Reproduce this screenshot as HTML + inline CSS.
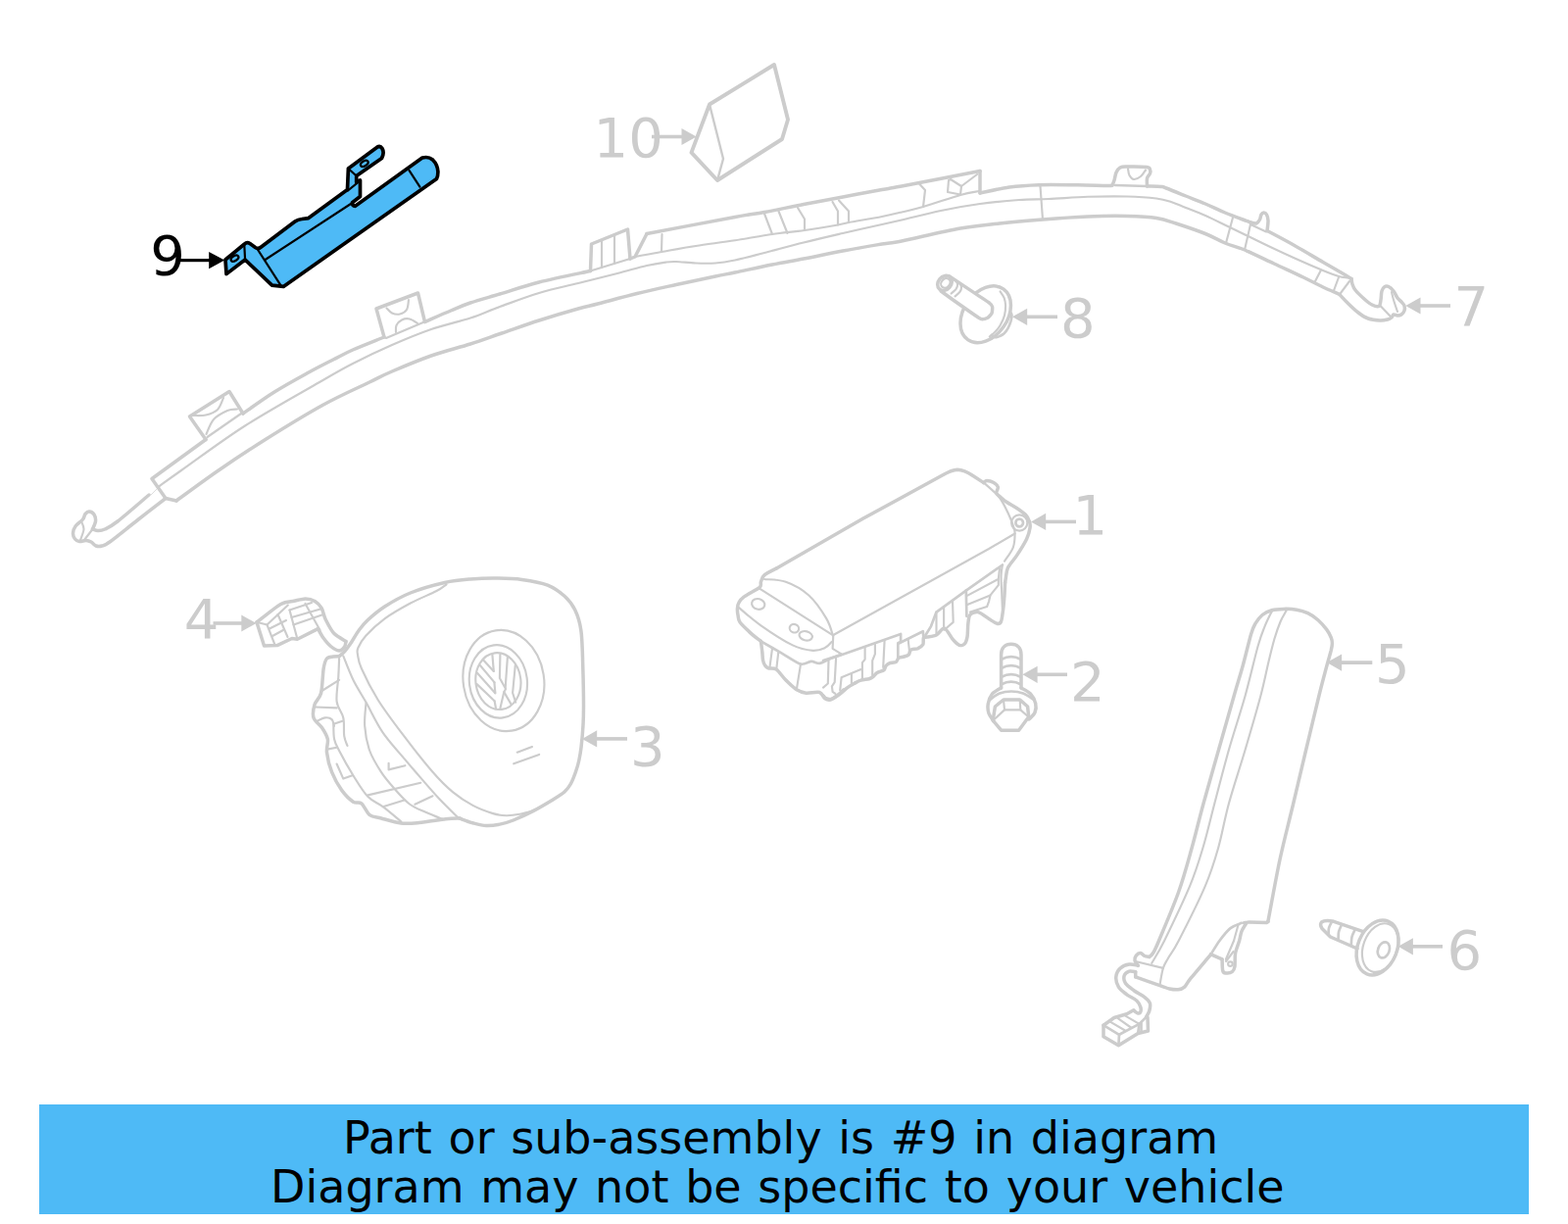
<!DOCTYPE html>
<html lang="en">
<head>
<meta charset="utf-8">
<title>Part diagram</title>
<style>
html,body{margin:0;padding:0;background:#fff}
body{width:1600px;height:1249px;overflow:hidden;position:relative;font-family:"DejaVu Sans","Liberation Sans",sans-serif}
svg{position:absolute;left:0;top:0;display:block}
.k{fill:none;stroke:#ccc;stroke-width:3.9;stroke-linejoin:round;stroke-linecap:round}
.m{fill:none;stroke:#ccc;stroke-width:3;stroke-linejoin:round;stroke-linecap:round}
.n{fill:none;stroke:#ccc;stroke-width:2.4;stroke-linejoin:round;stroke-linecap:round}
.t .k{stroke-width:3.5}
.t .m{stroke-width:2.7}
.t .n{stroke-width:2.15}
.lbl,.lbl9{font-family:"DejaVu Sans","Liberation Sans",sans-serif;font-size:56px;fill:#ccc}
.lbl9{fill:#000}
.arr,.arr9{stroke:#ccc;stroke-width:3.6;fill:none}
.ah,.ah9{fill:#ccc;stroke:none}
.arr9{stroke:#000;stroke-width:3.2}
.ah9{fill:#000}
.banner{position:absolute;left:40px;top:1127px;width:1520px;height:112px;background:#4ebaf6}
.banner p{position:absolute;left:0;margin:0;font-size:46px;line-height:50px;word-spacing:2.07px;color:#000;white-space:nowrap}
</style>
</head>
<body>
<svg width="1600" height="1249" viewBox="0 0 1600 1249">
<g id="g-p7" class="t">
<path class="k" d="M94.5,540 C95,538.7 97.2,534.5 97.5,532 C97.8,529.5 97.1,526.7 96,525 C94.9,523.3 92.5,522.1 91,522 C89.5,521.9 88.1,523.2 87,524.5 C85.9,525.8 86.2,527.9 84.5,530 C82.8,532.1 78.7,534.7 77,537 C75.3,539.3 74.6,541.8 74.5,544 C74.4,546.2 75.4,548.6 76.5,550 C77.6,551.4 79.1,552.2 81,552.5 C82.9,552.8 86,551.4 88,551.5 C90,551.6 91.3,552.1 93,553 C94.7,553.9 96.2,556.3 98,557 C99.8,557.7 101.7,557.7 104,557 C106.3,556.3 106,557.3 112,553 C118,548.7 130.5,538.4 140,531 C149.5,523.6 164.2,512.2 169,508.5"/>
<path class="k" d="M94.5,540 C95.4,540.2 97.9,541.5 100,541.5 C102.1,541.5 103.7,541.6 107,540 C110.3,538.4 112.5,537.8 120,532 C127.5,526.2 146.7,509.5 152,505"/>
<path class="n" d="M83,532 C83.4,533.3 85.7,536.8 85.5,540 C85.3,543.2 82.6,549.2 82,551"/>
<path class="n" d="M94.5,540 L86,551"/>
<path d="M153,506 L161,498" fill="none" stroke="#ddd" stroke-width="1"/>
<path class="k" d="M210,448.5 L155,488.5 L169,508.5 L180,511"/>
<path class="k" d="M210,448.5 L193.5,425 L234,399.5 L248,422"/>
<path class="k" d="M248,422 C253.3,418.3 268.8,407 280,400 C291.2,393 305,385.5 315,380 C325,374.5 332.5,370.8 340,367 C347.5,363.2 351.3,360.8 360,357 C368.7,353.2 386.7,346.2 392,344"/>
<path class="k" d="M392,344 L384,315 L426.5,299 L433.5,328.5"/>
<path class="k" d="M433.5,328.5 C437.9,326.6 452.2,320.2 460,317 C467.8,313.8 471.7,311.8 480,309 C488.3,306.2 498.3,303.5 510,300 C521.7,296.5 534.6,291.9 550,288 C565.4,284.1 593.8,278.4 602.5,276.5"/>
<path class="k" d="M602.5,276.5 L603.5,249 L640.5,234 L643,264"/>
<path class="k" d="M643,264 L648,262 L660,238.5"/>
<path class="k" d="M660,238.5 C675,235.7 730,225.2 750,221.5 C770,217.8 768.3,218.7 780,216.5 C791.7,214.3 806.7,211.1 820,208.5 C833.3,205.9 846.7,203.5 860,201 C873.3,198.5 890,195.3 900,193.5 C910,191.7 903.3,193.2 920,190 C936.7,186.8 986.7,177.1 1000,174.5"/>
<path class="k" d="M1000,174.5 L1000,197"/>
<path class="k" d="M1000,197 C1005,196 1020,192.4 1030,191 C1040,189.6 1048.3,189.1 1060,188.7 C1071.7,188.3 1088.3,188.7 1100,188.8 C1111.7,188.9 1124.2,189.5 1130,189.5 C1135.8,189.5 1134.2,189.1 1135,189"/>
<path class="k" d="M1135,189 C1135.3,188.2 1136.3,186.2 1137,184 C1137.7,181.8 1138,178.2 1139,176 C1140,173.8 1141.2,172 1143,171 C1144.8,170 1145.5,170.1 1150,170 C1154.5,169.9 1166.1,170 1170,170.5 C1173.9,171 1172.9,171.9 1173.5,173 C1174.1,174.1 1174,175.5 1173.5,177 C1173,178.5 1171,179.8 1170.5,182 C1170,184.2 1170.5,188.7 1170.5,190"/>
<path class="m" d="M1138,189 L1170,190"/>
<path class="n" d="M1151,172 C1151.2,173.2 1151.5,177.2 1152.5,179 C1153.5,180.8 1155.1,182.8 1157,183 C1158.9,183.2 1162,181.6 1164,180 C1166,178.4 1168.2,174.6 1169,173.5"/>
<path class="k" d="M1170.5,190 C1172.9,190.1 1181.8,190.2 1185,190.5 C1188.2,190.8 1185.8,190.4 1190,192 C1194.2,193.6 1203.3,197.3 1210,200 C1216.7,202.7 1223.3,205.2 1230,208 C1236.7,210.8 1242.3,213.8 1250,217 C1257.7,220.2 1271.7,225.3 1276,227"/>
<path class="k" d="M1276,227 C1277,227.2 1280.4,228.5 1282,228 C1283.6,227.5 1284.7,225.5 1285.5,224 C1286.3,222.5 1286.3,220.2 1287,219 C1287.7,217.8 1288.6,217 1289.5,217 C1290.4,217 1291.8,217.7 1292.5,219 C1293.2,220.3 1293.9,222.2 1294,225 C1294.1,227.8 1293.2,233.8 1293,235.5"/>
<path class="n" d="M1276,229 L1292,236.5"/>
<path class="k" d="M1293,235.5 C1297.5,237.9 1310.5,244.7 1320,250 C1329.5,255.3 1341.7,262.7 1350,267.5 C1358.3,272.3 1365.2,276.2 1370,279 C1374.8,281.8 1377.5,283.6 1379,284.5"/>
<path class="k" d="M180,511 C187.2,505.8 208,490.3 223,480 C238,469.7 252.2,460.2 270,449 C287.8,437.8 312.2,422.8 330,413 C347.8,403.2 365.3,395.7 377,390 C388.7,384.3 389.5,383.5 400,379 C410.5,374.5 426.7,367.7 440,363 C453.3,358.3 468,354.8 480,351 C492,347.2 500.3,344 512,340 C523.7,336 537,331.2 550,327 C563,322.8 580,317.8 590,315 C600,312.2 600,312.6 610,310 C620,307.4 636.7,302.8 650,299.5 C663.3,296.2 676.7,293.4 690,290.5 C703.3,287.6 720,284.1 730,282 C740,279.9 740.3,280 750,278 C759.7,276 776.3,272.3 788,270 C799.7,267.7 808,266.3 820,264 C832,261.7 846.7,258.5 860,256 C873.3,253.5 890,250.7 900,249 C910,247.3 906.7,248.7 920,246 C933.3,243.3 963.3,236 980,233 C996.7,230 1006,229.5 1020,228 C1034,226.5 1049,225.2 1064,224 C1079,222.8 1095.7,221.6 1110,221 C1124.3,220.4 1138.3,220.2 1150,220.5 C1161.7,220.8 1171.7,221.2 1180,222.5 C1188.3,223.8 1191.7,225.3 1200,228 C1208.3,230.7 1221.7,235.2 1230,238.5 C1238.3,241.8 1243.3,245.2 1250,248 C1256.7,250.8 1261.7,251.5 1270,255 C1278.3,258.5 1290,264.3 1300,269 C1310,273.7 1321.7,279 1330,283 C1338.3,287 1343.8,290.1 1350,293 C1356.2,295.9 1364.2,299.2 1367,300.5"/>
<path class="n" d="M162,496.5 C165.8,493.8 170.3,490.3 185,480 C199.7,469.7 226.5,449.5 250,434.5 C273.5,419.5 307.7,400.6 326,390 C344.3,379.4 347.7,377.3 360,371 C372.3,364.7 386.7,357.8 400,352 C413.3,346.2 426.7,340.6 440,336 C453.3,331.4 468.3,328.3 480,324.5 C491.7,320.7 498.3,317.2 510,313 C521.7,308.8 536.7,303 550,299 C563.3,295 576.7,292.3 590,289 C603.3,285.7 618.3,282 630,279 C641.7,276 651.7,272.9 660,271 C668.3,269.1 675,268.2 680,267.5 C685,266.8 685,266.8 690,267 C695,267.2 703.3,268.2 710,268.5 C716.7,268.8 723.3,269 730,268.5 C736.7,268 741.7,267.2 750,265.5 C758.3,263.8 768.3,261 780,258 C791.7,255 806.7,250.8 820,247.5 C833.3,244.2 846.7,241.1 860,238 C873.3,234.9 890,231.2 900,229 C910,226.8 910,226.8 920,224.5 C930,222.2 946.7,217.8 960,215 C973.3,212.2 986.7,209.8 1000,208 C1013.3,206.2 1028.3,204.8 1040,204 C1051.7,203.2 1058.3,203.5 1070,203 C1081.7,202.5 1096.7,201.2 1110,200.8 C1123.3,200.4 1138.3,200.2 1150,200.5 C1161.7,200.8 1172.5,201.6 1180,202.5 C1187.5,203.4 1190,204.4 1195,206 C1200,207.6 1204.2,209.7 1210,212 C1215.8,214.3 1222.5,216.7 1230,220 C1237.5,223.3 1245,227.2 1255,232 C1265,236.8 1279.2,243.8 1290,249 C1300.8,254.2 1310,258.5 1320,263 C1330,267.5 1342.3,272.8 1350,276 C1357.7,279.2 1361.8,280.8 1366,282 C1370.2,283.2 1373.5,283.2 1375,283.5"/>
<path class="n" d="M648,262 C652.5,261.2 664.7,258.8 675,257 C685.3,255.2 697.5,252.9 710,251 C722.5,249.1 737,247.3 750,245.3 C763,243.3 776.2,240.7 788,239 C799.8,237.3 809.8,236.6 821,235 C832.2,233.4 847.5,230.8 855,229.5 C862.5,228.2 858.5,228.4 866,227 C873.5,225.6 891,222.8 900,221 C909,219.2 913,218.2 920,216.5 C927,214.8 932,213.9 942,211 C952,208.1 970.5,201.7 980,199 C989.5,196.3 995.8,195.7 999,195"/>
<path class="n" d="M675.5,239 L675,257"/>
<path class="n" d="M780,218 L788,239"/>
<path class="n" d="M794.5,215.5 L803.5,238"/>
<path class="n" d="M814,212 L821,223.5 L821,235"/>
<path class="n" d="M849.5,206 L855,215.5 L855,229.5"/>
<path class="n" d="M856,204.5 L866,215.5 L866,227"/>
<path class="n" d="M938,187.5 L944,194 L942,211"/>
<path class="n" d="M970,183 L968,184 L967,196 L980,198.5 L981,190 L970,183"/>
<path class="n" d="M981,190 L997,178"/>
<path class="n" d="M211.5,446 L247.5,421"/>
<path class="n" d="M197,424 C199.2,423.9 205.8,424.5 210,423.5 C214.2,422.5 219,420.9 222,418 C225,415.1 227,408 228,406"/>
<path class="n" d="M210.5,443 C211.8,440.5 214.4,432 218,428 C221.6,424 228,420.8 232,419 C236,417.2 240.3,417.8 242,417.5"/>
<path class="n" d="M394,345 L433,328.5"/>
<path class="n" d="M394.5,314.5 C395.4,315.3 397.8,318.5 400,319.5 C402.2,320.5 405.5,321.1 408,320.5 C410.5,319.9 413.5,318.4 415,316 C416.5,313.6 416.7,307.7 417,306"/>
<path class="n" d="M404,339 C404.1,337.8 403.5,334.1 404.5,332 C405.5,329.9 407.8,327.6 410,326.5 C412.2,325.4 415.3,324.9 418,325.5 C420.7,326.1 424.7,329.2 426,330"/>
<path class="n" d="M614,245.5 L614,273"/>
<path class="n" d="M627,240 L627,269"/>
<path class="n" d="M604,276 L643,264"/>
<path class="n" d="M1061.5,190 L1064,224"/>
<path class="n" d="M1258,222 L1251,248"/>
<path class="n" d="M1276,229 L1270,255"/>
<path class="n" d="M1348,275.5 L1341.5,288"/>
<path class="n" d="M1366,283 L1361,296.5"/>
<path class="n" d="M1377,287 L1368,299"/>
<path class="k" d="M1379,284.5 C1379.2,285.4 1379.3,288.1 1380,290 C1380.7,291.9 1381,293.5 1383,296 C1385,298.5 1389.2,302.5 1392,305 C1394.8,307.5 1397.5,309.8 1400,311 C1402.5,312.2 1405.5,313.3 1407,312.5 C1408.5,311.7 1408.5,308.6 1409,306 C1409.5,303.4 1409.3,299.2 1410,297 C1410.7,294.8 1411.8,293.2 1413,292.5 C1414.2,291.8 1415.5,291.8 1417,292.5 C1418.5,293.2 1420.5,295.1 1422,297 C1423.5,298.9 1424.7,302.2 1426,304 C1427.3,305.8 1428.8,306.7 1430,308 C1431.2,309.3 1432.5,310.5 1433,312 C1433.5,313.5 1433.5,315.5 1433,317 C1432.5,318.5 1431.2,320.2 1430,321 C1428.8,321.8 1427.3,322 1426,322 C1424.7,322 1423,320.7 1422,321 C1421,321.3 1421,323.2 1420,324 C1419,324.8 1418,325.5 1416,326 C1414,326.5 1411.3,327.2 1408,327 C1404.7,326.8 1399.7,326.3 1396,325 C1392.3,323.7 1389.5,321.7 1386,319 C1382.5,316.3 1378.2,312.1 1375,309 C1371.8,305.9 1368.3,301.9 1367,300.5"/>
<path class="n" d="M1409,312.5 L1419,323"/>
<path class="n" d="M1420,298 C1420.3,299.3 1421,302.7 1422,306 C1423,309.3 1425.3,316 1426,318"/>
<text class="lbl" x="1483.5" y="332">7</text>
<path class="arr" d="M1480,312 H1448.5"/><path class="ah" d="M1449.5,303.4 L1434.3,312 L1449.5,320.6 Z"/>
</g>
<g id="g-p10">
<path class="k" d="M724,106.5 L790,66 L804,122 L798,142 L732,184 L705.5,155.6 Z"/>
<path class="n" d="M724,106.5 L738,162 L732,184"/>
<text class="lbl" x="605.5" y="160">10</text>
<path class="arr" d="M665,139.5 H696.5"/><path class="ah" d="M695.5,130.9 L710.7,139.5 L695.5,148.1 Z"/>
</g>
<g id="g-p8" class="t">
<ellipse class="k" cx="1005.7" cy="320.8" rx="22.3" ry="31.6" transform="rotate(35 1005.7 320.8)"/>
<path class="n" d="M1020.6,297.4 C1021.3,298.5 1023.7,301.5 1024.6,303.9 C1025.5,306.3 1026,308.8 1026.1,311.8 C1026.1,314.8 1025.9,318.5 1025,321.9 C1024.1,325.2 1022.2,329.2 1020.6,332 C1019.1,334.7 1017.4,336.5 1015.6,338.4 C1013.8,340.4 1010.8,342.6 1009.8,343.5"/>
<path class="m" d="M1031.1,319 C1031.3,319.4 1032.3,319.7 1032.3,321.2 C1032.4,322.6 1032.1,325.4 1031.5,327.6 C1030.8,329.9 1029.8,332.7 1028.6,334.8 C1027.4,337 1025.7,339.2 1024.3,340.6 C1022.8,342 1021.4,342.5 1019.9,343.1 C1018.5,343.7 1016.9,344.4 1015.6,344.2 C1014.3,344 1012.6,342.4 1012,342"/>
<path class="k" style="fill:#fff" d="M968.8,281.9 C971.4,283.6 993.1,298.1 996.9,300.6 C1000.6,303.1 1008.4,308.1 1009.8,309.3 C1011.3,310.4 1012.4,312.3 1012.6,313.2 C1012.8,314.2 1012.5,318.7 1012,319.7 C1011.6,320.7 1008.6,323.8 1007.7,324.4 C1006.8,325 1003.1,325.9 1002.3,325.8 C1001.4,325.8 999.9,325 998.3,324 C996.8,323 988.8,317.5 985.3,315 C981.8,312.6 962.4,298.7 960.1,297"/>
<ellipse class="k" style="fill:#fff" cx="964" cy="288.9" rx="6.6" ry="8.2" transform="rotate(40 964 288.9)"/>
<ellipse class="n" cx="964.6" cy="289.1" rx="4.2" ry="5.2" transform="rotate(40 965 289.3)"/>
<path class="n" d="M975.3,286.2 C975.6,286.9 977,288.7 977.1,290.2 C977.1,291.6 976.7,293.3 975.6,294.9 C974.5,296.4 971.4,298.8 970.6,299.5"/>
<path class="n" d="M978.9,288.4 C979.2,289.1 980.9,291.1 981,292.7 C981.1,294.3 980.7,296.1 979.6,297.7 C978.5,299.4 975.4,301.6 974.5,302.4"/>
<text class="lbl" x="1082" y="343.7">8</text>
<path class="arr" d="M1079,323.3 H1047.2"/><path class="ah" d="M1048.2,314.7 L1033,323.3 L1048.2,331.9 Z"/>
</g>
<g id="g-p1" class="t">
<path class="k" d="M792.3,580 C790.4,581 782.2,584.8 779.9,586.9 C777.5,588.9 777.2,591.9 776.4,593.8 C775.7,595.6 777.6,597 775.1,599.3 C772.5,601.5 762.4,606.5 759.3,608.9 C756.1,611.2 754.8,613.2 753.8,615.1 C752.7,616.9 752.5,619.3 752.4,621.3 C752.3,623.2 752.7,626.1 753.1,628.1 C753.5,630.2 753,632.1 755.1,635 C757.3,637.9 764.3,644.5 767.5,647.4 C770.7,650.3 775.1,653.2 776.4,654.3"/>
<path class="k" d="M776.4,654.3 C776.6,655.9 777.5,662.4 777.8,665.3 C778.1,668.1 778.1,671.4 778.5,673.5 C778.9,675.6 779.7,677.8 780.6,679 C781.4,680.2 782.2,681.1 784,681.8 C785.8,682.4 789.6,681.3 792.3,683.1 C794.9,685 798.8,691 801.9,694.1 C805,697.2 809.8,701.8 812.9,703.8 C816,705.7 819,706.8 822.5,707.2 C826,707.6 833.4,705.7 836.3,706.5 C839.1,707.3 840.1,711.6 841.8,712.7 C843.4,713.8 845.4,714.5 847.3,714.1 C849.1,713.7 852.1,711.5 854.1,709.9 C856.2,708.4 860,704.7 861,703.8"/>
<path class="k" d="M792.3,580 L880,529.6 L962,484.8 Q971,479.5 977,479.2 Q984,479.5 992.5,485.3 L1003.8,492.6"/>
<path class="k" d="M1003.8,492.6 C1004.3,492.3 1005.5,490.5 1007,490.5 C1008.5,490.5 1012.3,491.6 1014,492.6 C1015.7,493.6 1018,495.6 1018.4,497.1 C1018.8,498.6 1016.5,501.4 1016.7,502.8 C1016.9,504.2 1018.1,504.8 1019.5,506.1 C1020.9,507.5 1023.6,509.9 1026.3,511.8 C1029,513.7 1034.5,516.5 1037.5,518.5 C1040.5,520.5 1044.6,523.3 1046.5,525.3 C1048.4,527.3 1049.7,530 1050.4,532 C1051.1,534 1051.4,536.1 1051,538.8 C1050.6,541.5 1049.6,545.8 1047.6,550 C1045.6,554.2 1040.4,562.5 1037.5,566.9 C1034.6,571.3 1030.2,575.8 1028.5,579.3 C1026.8,582.8 1026.7,587.7 1026.3,590 C1025.9,592.3 1025.7,593.7 1025.6,594.4"/>
<path class="k" d="M1025.6,594.4 C1025.5,596.3 1025.2,604.2 1024.9,608.1 C1024.6,612 1024.1,618.2 1023.6,621.9 C1023.1,625.6 1022.4,632.2 1021.5,634.3 C1020.6,636.3 1019.1,636.7 1017.4,636.3 C1015.6,635.9 1011.9,633.2 1009.1,631.5 C1006.4,629.8 1000.9,625.2 998.1,624.6 C995.4,624 991.3,625.6 989.9,627.4 C988.4,629.1 988.2,633.9 987.8,637 C987.4,640.1 987.6,646.6 987.1,649.4 C986.6,652.2 985.5,655.7 984.4,656.9 C983.2,658.2 980.6,659 978.9,658.3 C977.1,657.6 974.1,654.6 972,652.1 C969.9,649.7 966.1,641.7 963.8,641.1 C961.4,640.5 958,646.7 955.5,648 C953,649.3 947.7,649.7 945.9,650.1 C944,650.5 943,649.7 942.4,650.8 C941.9,651.8 942.6,656.1 941.8,657.6 C940.9,659.2 938,661 936.3,661.8 C934.5,662.5 930.6,662.2 929.4,663.1 C928.1,664 928.3,667 927.3,667.9 C926.3,668.9 924,669.5 922.5,670 C921,670.5 918.2,670.6 917,671.4 C915.8,672.2 915.6,674.7 914.3,675.5 C912.9,676.3 908.8,676.3 907.4,676.9 C905.9,677.5 904.7,678.7 903.9,679.6 C903.2,680.6 903.1,682.8 901.9,683.8 C900.6,684.7 896.6,685.5 895,686.5 C893.4,687.5 892,689.7 890.9,690.6 C889.7,691.5 888.5,692.2 886.8,692.7 C885,693.2 880.6,693.4 878.5,694.1 C876.4,694.7 873.6,696.4 871.6,697.5 C869.7,698.6 866.9,700.1 864.8,701.6 C862.6,703.2 858.8,706.8 856.5,708.5 C854.2,710.2 850.2,712.7 848.3,713.3 C846.3,713.9 843.9,713.1 842.8,712.6 C841.6,712.1 840.4,710.3 840,709.9"/>
<circle class="n" cx="1040.2" cy="533.5" r="8.1"/>
<circle class="m" cx="1040.2" cy="533.5" r="3.8"/>
<path class="n" d="M1003.9,492.6 C1006.5,495.1 1015.5,502.1 1019.7,507.5 C1024,513 1027,520.2 1029.4,525.2 C1031.8,530.1 1033.2,534.3 1034.2,537.5 C1035.2,540.7 1035.6,541 1035.6,544.5 C1035.5,548 1035.6,553.9 1033.8,558.6 C1032.1,563.3 1026.5,570.3 1025,572.7"/>
<path class="n" d="M850.3,648 L1009.1,560 L1035.6,544.5"/>
<path class="n" d="M779.9,591 C783.5,591.5 794.3,591 801.9,593.8 C809.4,596.5 818.4,601.3 825.3,607.5 C832.1,613.7 839,624 843.1,630.9 C847.3,637.8 848.9,645.8 850,648.8"/>
<path class="n" d="M775.1,600.6 L848.6,647.4"/>
<path class="n" d="M753.8,619.9 C757.4,622.9 766.6,631.3 775.8,637.8 C784.9,644.2 799.8,654 808.8,658.4 C817.7,662.7 823.9,663.4 829.4,663.9 C834.9,664.3 838.5,662.6 841.8,661.1 C845,659.6 847.5,656 848.6,654.9"/>
<path class="n" d="M850.3,648 L849.6,661.8 L859.3,667.9"/>
<ellipse class="n" cx="773.7" cy="616.4" rx="6.7" ry="5.3" transform="rotate(15 773.7 616.4)"/>
<ellipse class="n" cx="810.4" cy="641.2" rx="4.8" ry="4.2" transform="rotate(20 810.4 641.2)"/>
<ellipse class="n" cx="822.2" cy="648.8" rx="6.8" ry="4.6" transform="rotate(15 822.2 648.8)"/>
<path class="m" d="M776.4,654.3 C779.3,655.9 792.3,663.5 797.8,666.6 C803.2,669.7 813,676.5 817,677.6 C821,678.7 825.4,675 828,674.9 C830.6,674.8 833.7,677.3 836.3,676.9 C838.8,676.6 844.3,673.3 847.3,672.1 C850.2,670.9 856.8,668.6 858.3,668"/>
<path class="n" d="M788.1,661.1 L785.4,681.1"/>
<path class="n" d="M794.3,665.3 L792.3,682.4"/>
<path class="n" d="M817,677.9 L812.9,703.1"/>
<path class="m" d="M840,674.1 L859.3,667.9 L919.1,646.9 L919.1,654.9 L916.3,656.3 L916.3,672.1"/>
<path class="m" d="M917.7,656.3 L941.8,644.2 L942.4,650.8"/>
<path class="m" d="M944.5,648 L950,639.1 L955.5,624.6 L985.8,602.6 L1022.9,576.5"/>
<path class="m" d="M985.8,602.6 L986.4,628.8"/>
<path class="n" d="M986.4,608.1 L1018.8,590.9 L1020.1,579.3"/>
<path class="n" d="M987.1,617.1 L1010.5,607.4 L1018.8,597.1 L1018.8,590.9"/>
<path class="n" d="M989.9,624.6 L1007.1,619.1 L1009.1,613.6 L1010.5,607.4"/>
<path class="n" d="M1022.9,576.5 C1022.6,578.3 1021.6,582.7 1021.5,587.5 C1021.4,592.3 1022,599.6 1022.2,605.4 C1022.4,611.1 1022.8,619.1 1022.9,621.9"/>
<path class="n" d="M955.5,624.6 L955.5,646.6"/>
<path class="n" d="M963.1,619.1 L963.1,642.5"/>
<path class="n" d="M972,612.9 L972.7,634.9 L963.8,642.5"/>
<path class="n" d="M926.6,652.1 L928,664.5"/>
<path class="n" d="M902.6,653.5 L901.2,681"/>
<path class="n" d="M892.9,656.9 L892.9,667.3 L890.2,674.1 L890.2,689.9"/>
<path class="n" d="M882.6,661.1 L882.6,672.8 L879.9,676.2 L879.9,693.4"/>
<path class="n" d="M857.2,704.4 L858.6,691.3 L878.5,683.1 L879.9,683.8"/>
<path class="n" d="M868.9,687.2 L868.9,697.5"/>
<path class="n" d="M853.1,671.4 L851.7,696.1 L848.9,700.3 L849.6,705.8 L852.4,707.8"/>
<path class="n" d="M845.5,674.1 L844.8,697.5 L840,701.6"/>
<text class="lbl" x="1094.4" y="545.4">1</text>
<path class="arr" d="M1098,532.4 H1066.2"/><path class="ah" d="M1067.2,523.8 L1052,532.4 L1067.2,541 Z"/>
</g>
<g id="g-p2" class="t">
<path class="k" d="M1021.6,702 L1021.6,668 C1021.6,661 1026,657.3 1031.8,657.3 C1037.6,657.3 1042,661 1042,668 L1042,702"/>
<path class="m" d="M1022,672.7 Q1031.8,667.5 1041.5,672.7"/>
<path class="m" d="M1022,681.7 Q1031.8,676.5 1041.5,681.7"/>
<path class="m" d="M1022,690.7 Q1031.8,685.5 1041.5,690.7"/>
<path class="m" d="M1022,698.2 Q1031.8,693 1041.5,698.2"/>
<path class="k" d="M1021.5,702 C1020,703 1014.7,705.3 1012.5,708 C1010.3,710.7 1008.9,714.7 1008.3,718 C1007.7,721.3 1008,725 1009,728 C1010,731 1013.2,734.7 1014,736"/>
<path class="k" d="M1042,702 C1043.6,703 1049,705.3 1051.5,708 C1054,710.7 1056,714.8 1056.7,718 C1057.5,721.2 1057.1,724.3 1056,727 C1054.9,729.7 1051,732.8 1050,734"/>
<path class="m" d="M1010,714 C1011.7,712.9 1016.3,708.9 1020,707.5 C1023.7,706.1 1028,705.5 1032,705.5 C1036,705.5 1040.2,706.1 1044,707.5 C1047.8,708.9 1053.2,712.9 1055,714"/>
<path class="k" d="M1015.4,721 L1024,714 L1040.7,714 L1048.6,721 L1049.7,731.5 L1039.6,745.2 L1021.6,745.2 L1013.2,735.1 Z"/>
<path class="n" d="M1013.5,735 L1025,724.4 L1041.3,724.4 L1049.5,731.5"/>
<path class="n" d="M1024,714 L1025,724.4"/>
<path class="n" d="M1040.7,714 L1041.3,724.4"/>
<text class="lbl" x="1092" y="714.5">2</text>
<path class="arr" d="M1089,688.3 H1057.6"/><path class="ah" d="M1058.6,679.7 L1043.4,688.3 L1058.6,696.9 Z"/>
</g>
<g id="g-p3" class="t">
<path class="k" d="M346,669.8 C347,668.9 349.7,666.9 351.8,664.5 C353.9,662.1 356.1,659 358.5,655.5 C360.9,652 363.2,647.2 366,643.5 C368.8,639.8 370.6,637.1 375,633 C379.4,628.9 385.2,623.7 392.5,619 C399.8,614.3 408.6,609.1 418.8,605 C429,600.9 443.6,596.8 453.8,594.5 C464,592.2 471.2,591.7 480,591 C488.8,590.3 497.6,590 506.3,590.1 C515,590.2 523.8,590.2 532.5,591.4 C541.2,592.6 551.5,594.2 558.8,597.1 C566.1,600 571.6,604.3 576.3,608.5 C581,612.7 584,616.7 586.8,622.5 C589.6,628.3 591.6,634.3 592.9,643.5 C594.2,652.7 594.3,665 594.7,677.7 C595.1,690.5 595.5,709.6 595.5,720 C595.5,730.4 595.4,733 595,740 C594.6,747 593.8,756 593.1,762 C592.4,768 591.7,771.8 590.8,776 C589.9,780.2 588.9,783.5 587.5,787.5 C586.1,791.5 584.2,796.6 582.3,800 C580.4,803.4 578.9,805.4 576,808 C573.1,810.6 570.3,812.3 565,815.5 C559.7,818.7 551.3,823.8 544.4,827.4 C537.5,831 529.5,834.7 523.8,837 C518.1,839.3 514.6,840.2 510,841.1 C505.4,842 500.9,842.7 496.3,842.5 C491.7,842.3 487.1,841 482.5,839.8 C477.9,838.5 471.1,835.8 468.8,835"/>
<path class="k" d="M346,669.8 C345.1,669.8 341.9,669.7 340,670 C338.1,670.3 335,670.2 333.5,672 C332,673.8 331.1,676.7 330.2,682 C329.3,687.3 329,701.7 327.6,707.2 C326.2,712.8 322.1,715.2 321,719 C319.9,722.8 318.9,728.9 320,732.4 C321.1,735.9 326.3,739.2 328.5,742.5 C330.7,745.8 333.6,750.5 334.4,754.3 C335.1,758.1 332.9,762.7 333.5,767.7 C334.1,772.7 336.3,782.1 338.6,787.9 C340.9,793.7 345.4,801.9 348.7,806.4 C352,810.9 357.4,816.2 360.4,818.2 C363.4,820.2 366.3,817.8 368.8,819.8 C371.3,821.8 374.2,829.3 377.2,831.6 C380.2,833.9 384.2,833.7 389,835 C393.8,836.3 403.4,839.3 409.2,840 C415,840.7 420.7,840.1 427.6,839.5 C434.5,838.9 448.8,836.5 455,835.8 C461.2,835.1 466.7,835.1 468.8,835"/>
<path class="n" d="M455.5,596.3 C453.8,597.5 451.1,600.1 445,603.3 C438.9,606.5 427.6,610.8 418.8,615.5 C410.1,620.2 400.1,625.8 392.5,631.3 C384.9,636.8 377.8,643.8 373.3,648.8 C368.8,653.8 366.8,657.8 365.4,661 C364,664.2 364.4,664.5 365,668 C365.6,671.5 365.4,674.3 368.8,682 C372.2,689.7 378.6,702.8 385.6,714 C392.6,725.2 401.5,737 410.8,749.2 C420.1,761.5 432.8,777.7 441.3,787.5 C449.8,797.3 455,802.4 461.9,808.1 C468.8,813.8 475.6,818.2 482.5,821.9 C489.4,825.6 497.4,828.4 503.1,830.1 C508.8,831.8 512.3,832.1 516.9,832.2 C521.5,832.3 526,831.6 530.6,830.8 C535.2,830 542.1,828 544.4,827.4"/>
<path class="n" d="M350.3,669.4 C352,673.5 356.5,685.8 360.4,693.8 C364.3,701.8 368.8,708.3 373.9,717.3 C378.9,726.3 384,737.8 390.7,747.6 C397.4,757.4 408.1,768.8 414.2,776.1 C420.3,783.4 421.9,785.1 427.5,791.6 C433.1,798.1 441.5,807.9 448.1,815 C454.8,822.1 464.2,831.1 467.4,834.3"/>
<path class="n" d="M373.5,717.3 C373.3,721.2 371.6,732.7 372.2,740.8 C372.8,748.9 374.4,758.1 377.2,766 C380,773.9 384.8,781.4 389,787.9 C393.2,794.4 397.6,799.3 402.4,804.7 C407.2,810.1 412.6,816.5 417.9,820.5 C423.2,824.5 428.9,826.3 434.4,828.8 C439.9,831.3 448.1,834.5 450.9,835.6"/>
<path class="n" d="M346.1,672 C346,675.1 345.7,683.1 345.3,690.4 C344.9,697.7 342.8,708.6 343.6,715.6 C344.4,722.6 349,726.5 350.3,732.4 C351.6,738.3 350.5,746.1 351.2,750.9 C351.9,755.7 353.9,759.3 354.5,761"/>
<path class="n" d="M340.3,737.5 C340.4,740.3 340.1,749.5 341.1,754.3 C342.1,759 342.9,759.8 346.1,766 C349.3,772.2 355.5,783.4 360.4,791.3 C365.3,799.1 370.4,807.8 375.5,813.1 C380.6,818.4 385.1,819 390.7,823.2 C396.3,827.4 406.1,835.8 409.2,838.3"/>
<path class="n" d="M327.6,705.5 L346.1,693.8"/>
<path class="n" d="M321.8,721.5 L343.6,722.4"/>
<path class="n" d="M323.4,735.8 C324.8,735.2 329.3,732.7 331.8,732.4 C334.3,732.1 337.1,732.7 338.6,734.1 C340.1,735.5 340.6,739.7 341,740.8"/>
<path class="n" d="M342,738.3 L349.5,735.8"/>
<path class="n" d="M335.2,764.4 L343.6,762.7"/>
<path class="n" d="M343.6,779.5 L350.3,794.6 L359.6,791.3"/>
<path class="n" d="M396.6,778.7 L396.6,785.4 L413.4,781.2"/>
<path class="n" d="M375.5,811.4 L429.3,798.8"/>
<path class="n" d="M390.7,823.2 L412.5,816.5"/>
<path class="n" d="M423.4,820.7 L441.5,812.3"/>
<ellipse class="n" cx="513.9" cy="694.5" rx="41.2" ry="51.8" transform="rotate(-9 513.9 694.5)"/>
<ellipse class="n" cx="508.4" cy="695.4" rx="29.5" ry="37.3" transform="rotate(-7 508.4 695.4)"/>
<ellipse class="n" cx="508.4" cy="695.1" rx="23" ry="29" transform="rotate(-7 508.4 695.1)"/>
<path class="n" d="M493.2,673.5 L503.8,684.9"/>
<path class="n" d="M489.7,678.8 L504.6,696.4"/>
<path class="n" d="M487,686.7 L505.1,707"/>
<path class="n" d="M486.6,698.1 L504.6,715.3"/>
<path class="n" d="M502.4,668.2 L503.8,684.9"/>
<path class="n" d="M504.4,696.4 L505.4,707.4"/>
<path class="n" d="M504.6,715.3 L506,722.8"/>
<path class="n" d="M510.4,667.8 L509.9,692 L516.1,703 L514.3,706.1 L510.4,722.8"/>
<path class="n" d="M517.9,670.4 L515.7,701.7"/>
<path class="n" d="M525.8,678.8 L523.1,707 L526.2,716.7"/>
<path class="n" d="M514.3,706.1 L521.4,718.4"/>
<path class="n" d="M527.8,767.7 L543,762"/>
<path class="n" d="M524.2,779.3 L550.2,769.9"/>
<text class="lbl" x="642.9" y="780.6">3</text>
<path class="arr" d="M640,753.9 H608.2"/><path class="ah" d="M609.2,745.3 L594,753.9 L609.2,762.5 Z"/>
</g>
<g id="g-p4" class="t">
<path class="k" d="M262,635 C265.3,632.5 281.4,619.4 286.5,616.5 C291.6,613.6 296.7,614 300,613.3 C303.3,612.6 308.8,611 311.6,611 C314.4,611 319.1,612.2 321.3,613.5 C323.5,614.8 326.6,618 328.1,620.5 C329.6,623 330.6,628.9 332.3,632.3 C334,635.7 337.7,643 340.5,646 C343.3,649 351.3,653.4 353,654.5"/>
<path class="k" d="M353,654.5 C352.8,655.4 352.7,658.4 351.5,660 C350.3,661.6 348.3,664.1 346,664 C343.7,663.9 340.2,661.7 337.5,659.5 C334.8,657.3 332.2,654 330,651 C327.8,648 325.4,643.1 324.5,641.5"/>
<path class="k" d="M324,641.9 L303.4,652.2 L297.9,651.5 L282.8,658.6 L269.5,659 L262,635"/>
<path class="n" d="M264.5,635.5 L272.5,637.5 L280.5,658"/>
<path class="n" d="M272.5,637.5 L293.8,617.5"/>
<path class="n" d="M283.5,627 L293.5,650"/>
<path class="n" d="M295.5,622.5 L303.4,652"/>
<path class="n" d="M275,641.5 L292,633"/>
<path class="n" d="M278,649 L289,643"/>
<path class="n" d="M295.5,622.5 L318,615"/>
<path class="n" d="M297.5,630 L327,621.5"/>
<path class="n" d="M299.5,637.5 L328.5,627.5"/>
<path class="n" d="M311.5,616 L326.5,643"/>
<text class="lbl" x="187.7" y="650.8">4</text>
<path class="arr" d="M217.5,636 H247.3"/><path class="ah" d="M246.3,627.4 L261.5,636 L246.3,644.6 Z"/>
</g>
<g id="g-p5" class="t">
<path class="k" d="M1172.8,976.4 C1173.4,975.8 1175,975.2 1176.6,972.5 C1178.2,969.8 1178.2,970.4 1182.5,960 C1186.8,949.6 1197.1,925.8 1202.7,910 C1208.3,894.2 1212,880 1216.2,865 C1220.4,850 1223.4,836.8 1228,820 C1232.6,803.2 1238.5,782.8 1243.7,764.5 C1248.9,746.2 1255.2,724.1 1259.2,710 C1263.2,695.9 1265.1,690.5 1268,680 C1270.9,669.5 1274.5,654 1276.7,646.7 C1278.9,639.4 1279.2,639.4 1281.1,636.2 C1283,633 1285.3,629.8 1288.1,627.5 C1290.9,625.2 1294,623.7 1297.7,622.7 C1301.4,621.7 1305.8,621.5 1310,621.4 C1314.2,621.3 1319,621.5 1323.1,622.2 C1327.2,622.9 1330.8,624 1334.5,625.7 C1338.2,627.5 1341.8,629.9 1345,632.7 C1348.2,635.5 1351.5,639.5 1353.7,642.4 C1355.9,645.3 1357.1,647.9 1358.1,650.2 C1359,652.5 1359.4,654.1 1359.4,656.4 C1359.4,658.7 1359,660.3 1358.1,664.2 C1357.1,668.1 1355.7,672.4 1353.7,680 C1351.7,687.6 1349.3,696.2 1345.9,710 C1342.5,723.8 1337.7,744.2 1333.3,762.5 C1328.9,780.8 1324.2,801 1319.7,820 C1315.2,839 1310.5,856.1 1306.2,876.2 C1301.9,896.3 1296,929.7 1293.9,940.4"/>
<path class="k" d="M1293.9,940.4 L1292.7,941.5 L1274.7,940.9 L1269.5,941.8"/>
<path class="k" d="M1271.4,942.6 C1270.7,943.9 1268,947.6 1266.9,950.5 C1265.8,953.4 1265.6,956.3 1264.6,960 C1263.5,963.7 1261.4,968.1 1260.6,972.5 C1259.8,976.9 1260.5,983.4 1259.9,986.6 C1259.4,989.8 1258.8,990.6 1257.3,991.7 C1255.8,992.8 1252.5,993.2 1250.9,993 C1249.3,992.8 1248.3,992.9 1247.7,990.5 C1247.1,988.1 1247.2,980.8 1247.1,978.9"/>
<path class="k" d="M1247.1,978.9 L1235.6,973.8"/>
<path class="k" d="M1235.6,973.8 C1232.2,977.9 1219.6,992.7 1215.1,998.2 C1210.6,1003.8 1210.8,1005.2 1208.7,1007.1 C1206.6,1009 1204.8,1009.4 1202.2,1009.7 C1199.6,1010 1196.3,1009.6 1193.3,1009 C1190.3,1008.4 1190.1,1007.8 1184.3,1005.8 C1178.5,1003.8 1163,998.4 1158.7,996.9"/>
<path class="k" d="M1172.8,976.4 C1172,976.2 1169.5,976.1 1168,975.5 C1166.5,974.9 1165.2,972.6 1163.8,972.5 C1162.3,972.4 1160.3,973.8 1159.3,975.1 C1158.3,976.4 1157.7,978.5 1158,980.2 C1158.3,981.9 1160.8,984.4 1161.3,985.3"/>
<path class="k" d="M1158.7,991.7 L1158.7,996.9"/>
<path class="n" d="M1297.7,624 C1296.5,626.5 1293,633.1 1290.7,638.9 C1288.4,644.7 1287.1,647.1 1283.7,659 C1280.3,670.9 1275.5,692.4 1270.6,710 C1265.7,727.6 1259.3,746.2 1254.1,764.5 C1248.9,782.8 1243.7,803.2 1239.3,820 C1234.9,836.8 1231.7,850.9 1227.5,865 C1223.3,879.1 1220.6,888.6 1214,904.4 C1207.4,920.2 1194.5,946.9 1188.1,960 C1181.6,973.1 1177.4,979 1175.3,982.8"/>
<path class="n" d="M1312.6,623.1 C1311.6,625 1308.5,629.7 1306.5,634.5 C1304.5,639.3 1302.5,645 1300.4,652 C1298.4,659 1296.5,666.8 1294.2,676.5 C1291.9,686.2 1290.3,695.3 1286.4,710 C1282.5,724.7 1276.2,746.2 1270.8,764.5 C1265.4,782.8 1258.5,803.2 1253.9,820 C1249.3,836.8 1247.2,850.9 1243.2,865 C1239.2,879.1 1236.5,888.6 1229.7,904.4 C1223,920.2 1209,947.8 1202.7,960 C1196.4,972.2 1194.6,973.1 1192,977.7 C1189.4,982.4 1188.3,983.5 1186.9,987.9 C1185.5,992.3 1184.2,1001.3 1183.7,1004"/>
<path class="n" d="M1158.5,981 L1186.9,987.9"/>
<path class="m" d="M1235.6,973.8 C1237.1,971.5 1241.1,964.5 1244.4,960 C1247.7,955.5 1251.8,950.1 1255.6,947.1 C1259.4,944.1 1265.1,942.7 1267,941.8"/>
<path class="n" d="M1263.5,943.7 L1259,960 L1250.9,979"/>
<path class="n" d="M1258.6,971 L1251,981"/>
<circle class="n" cx="1255.4" cy="983.6" r="2.3"/>
<path class="k" d="M1161.3,985.3 C1159.8,985.1 1155.3,983.6 1152.3,984 C1149.3,984.4 1145.5,985.8 1143.3,987.9 C1141,990 1139.1,993.7 1138.8,996.9 C1138.5,1000.1 1139.6,1004.1 1141.4,1007.1 C1143.2,1010.1 1146.6,1012.4 1149.7,1014.8 C1152.8,1017.1 1157.7,1019.1 1160,1021.2 C1162.3,1023.3 1163.2,1025.7 1163.8,1027.6 C1164.4,1029.5 1164.2,1031.6 1163.8,1032.7 C1163.4,1033.8 1162.3,1034.2 1161.2,1034 C1160.1,1033.8 1158,1031.9 1157.4,1031.5"/>
<path class="k" d="M1158.7,991.7 C1157.6,991.6 1154.2,990.5 1152.3,991.1 C1150.4,991.8 1147.8,993.6 1147.2,995.6 C1146.6,997.6 1146.7,1000.7 1148.4,1003.3 C1150.1,1005.9 1154.2,1008.6 1157.4,1011 C1160.6,1013.4 1165,1015.3 1167.7,1017.4 C1170.4,1019.5 1172.6,1021.4 1173.4,1023.8 C1174.2,1026.1 1173.4,1029.2 1172.8,1031.5 C1172.2,1033.8 1170.1,1036.8 1169.6,1037.9"/>
<path class="k" d="M1126,1046.2 L1136.9,1038.5 L1149.7,1034.7 L1156.8,1030.8"/>
<path class="k" d="M1169.6,1037.9 L1171,1038 L1171.5,1052 L1161.2,1054.5 L1141.4,1066.7 L1126,1057.7 L1126,1046.2"/>
<path class="m" d="M1126,1046.2 L1142,1055.8 L1141.4,1066.7"/>
<path class="m" d="M1142,1055.8 L1162.5,1044.9 L1161.2,1054.5"/>
<path class="m" d="M1162.5,1044.9 L1169.6,1037.9"/>
<path class="m" d="M1164.5,1044 L1164.5,1053"/>
<path class="n" d="M1132.4,1042.4 L1148,1051.5"/>
<path class="n" d="M1140.7,1039.2 L1154,1048.5"/>
<path class="n" d="M1148.4,1036.6 L1162.5,1044.9"/>
<text class="lbl" x="1402.9" y="696.6">5</text>
<path class="arr" d="M1400.3,676.1 H1368.1"/><path class="ah" d="M1369.1,667.5 L1353.9,676.1 L1369.1,684.7 Z"/>
</g>
<g id="g-p6" class="t">
<path class="k" d="M1391,950.6 L1361,940.3 Q1352,938.5 1348.5,941 Q1346.5,943.5 1349,947.5 L1357.5,956 L1385,968"/>
<path class="m" d="M1358.8,941 C1358.3,942 1356.5,944.9 1356,947 C1355.5,949.1 1355.7,952.4 1355.6,953.5"/>
<path class="m" d="M1368.8,944 C1368.3,945.2 1366.5,948.6 1366,951 C1365.5,953.4 1365.7,957.2 1365.6,958.5"/>
<path class="m" d="M1382.5,949 C1382,950.2 1380.1,953.5 1379.5,956 C1378.9,958.5 1378.9,962.7 1378.8,964"/>
<ellipse class="k" fill="#fff" cx="1405.6" cy="966.9" rx="20" ry="29" transform="rotate(22 1405.6 966.9)"/>
<ellipse class="n" cx="1408.3" cy="967" rx="17.2" ry="25.6" transform="rotate(20 1408 967)"/>
<ellipse class="m" cx="1411.9" cy="969.4" rx="5.8" ry="8.3" transform="rotate(20 1411.9 969.4)"/>
<text class="lbl" x="1476.4" y="989">6</text>
<path class="arr" d="M1472,965.8 H1440.9"/><path class="ah" d="M1441.9,957.2 L1426.7,965.8 L1441.9,974.4 Z"/>
</g>
<g id="g-p9">
<g id="p9" stroke="#000" stroke-linejoin="round" stroke-linecap="round">
<path fill="#4ebaf6" stroke-width="3.7" d="M230,265 L249.5,249 Q252,246.5 255,248.5 L260.5,252.5 Q263.5,254.5 266.5,252 L301,226 Q304,223.8 308,223.5 L314.8,222.6 L354.5,193.5 L355.4,172 L384.8,150.2 Q388,148.3 390,151.5 Q392.5,156 389.5,161.5 L363.7,179.5 L363.7,186 L367.5,184 L367.5,200.5 L359.5,206.8 Q359.3,210 362.5,210.3 L430.9,161.1 Q437,159.3 441.5,163 Q446.5,168 446.9,175 Q447,180 445.5,182.5 L289.2,292.4 L277.6,291.1 L250.1,265 L231,279.6 Z"/>
<g fill="none" stroke-width="2.2">
<path d="M249.3,250 L250.1,265"/>
<path d="M262.5,254 L286.6,291.3"/>
<path d="M270.6,265 L359.5,207"/>
<path d="M417.5,173.9 L428.4,190.6"/>
<path d="M356.5,173 L363.7,179.5"/>
<path d="M355,194.5 L364,187.2"/>
<ellipse cx="239.5" cy="263.6" rx="4.3" ry="2.5" transform="rotate(-32 239.5 263.6)"/>
<ellipse cx="371.8" cy="166.9" rx="4.3" ry="2.5" transform="rotate(-32 371.8 166.9)"/>
</g></g>
<text class="lbl9" x="153.3" y="279.5">9</text>
<path class="arr9" d="M184,265.6 H214.2"/><path class="ah9" d="M213.2,256.9 L229.2,265.6 L213.2,274.3 Z"/>
</g>
</svg>
<div class="banner">
<p style="top:9px;left:310px">Part or sub-assembly is #9 in diagram</p>
<p style="top:59px;left:236px">Diagram may not be specific to your vehicle</p>
</div>
</body>
</html>
